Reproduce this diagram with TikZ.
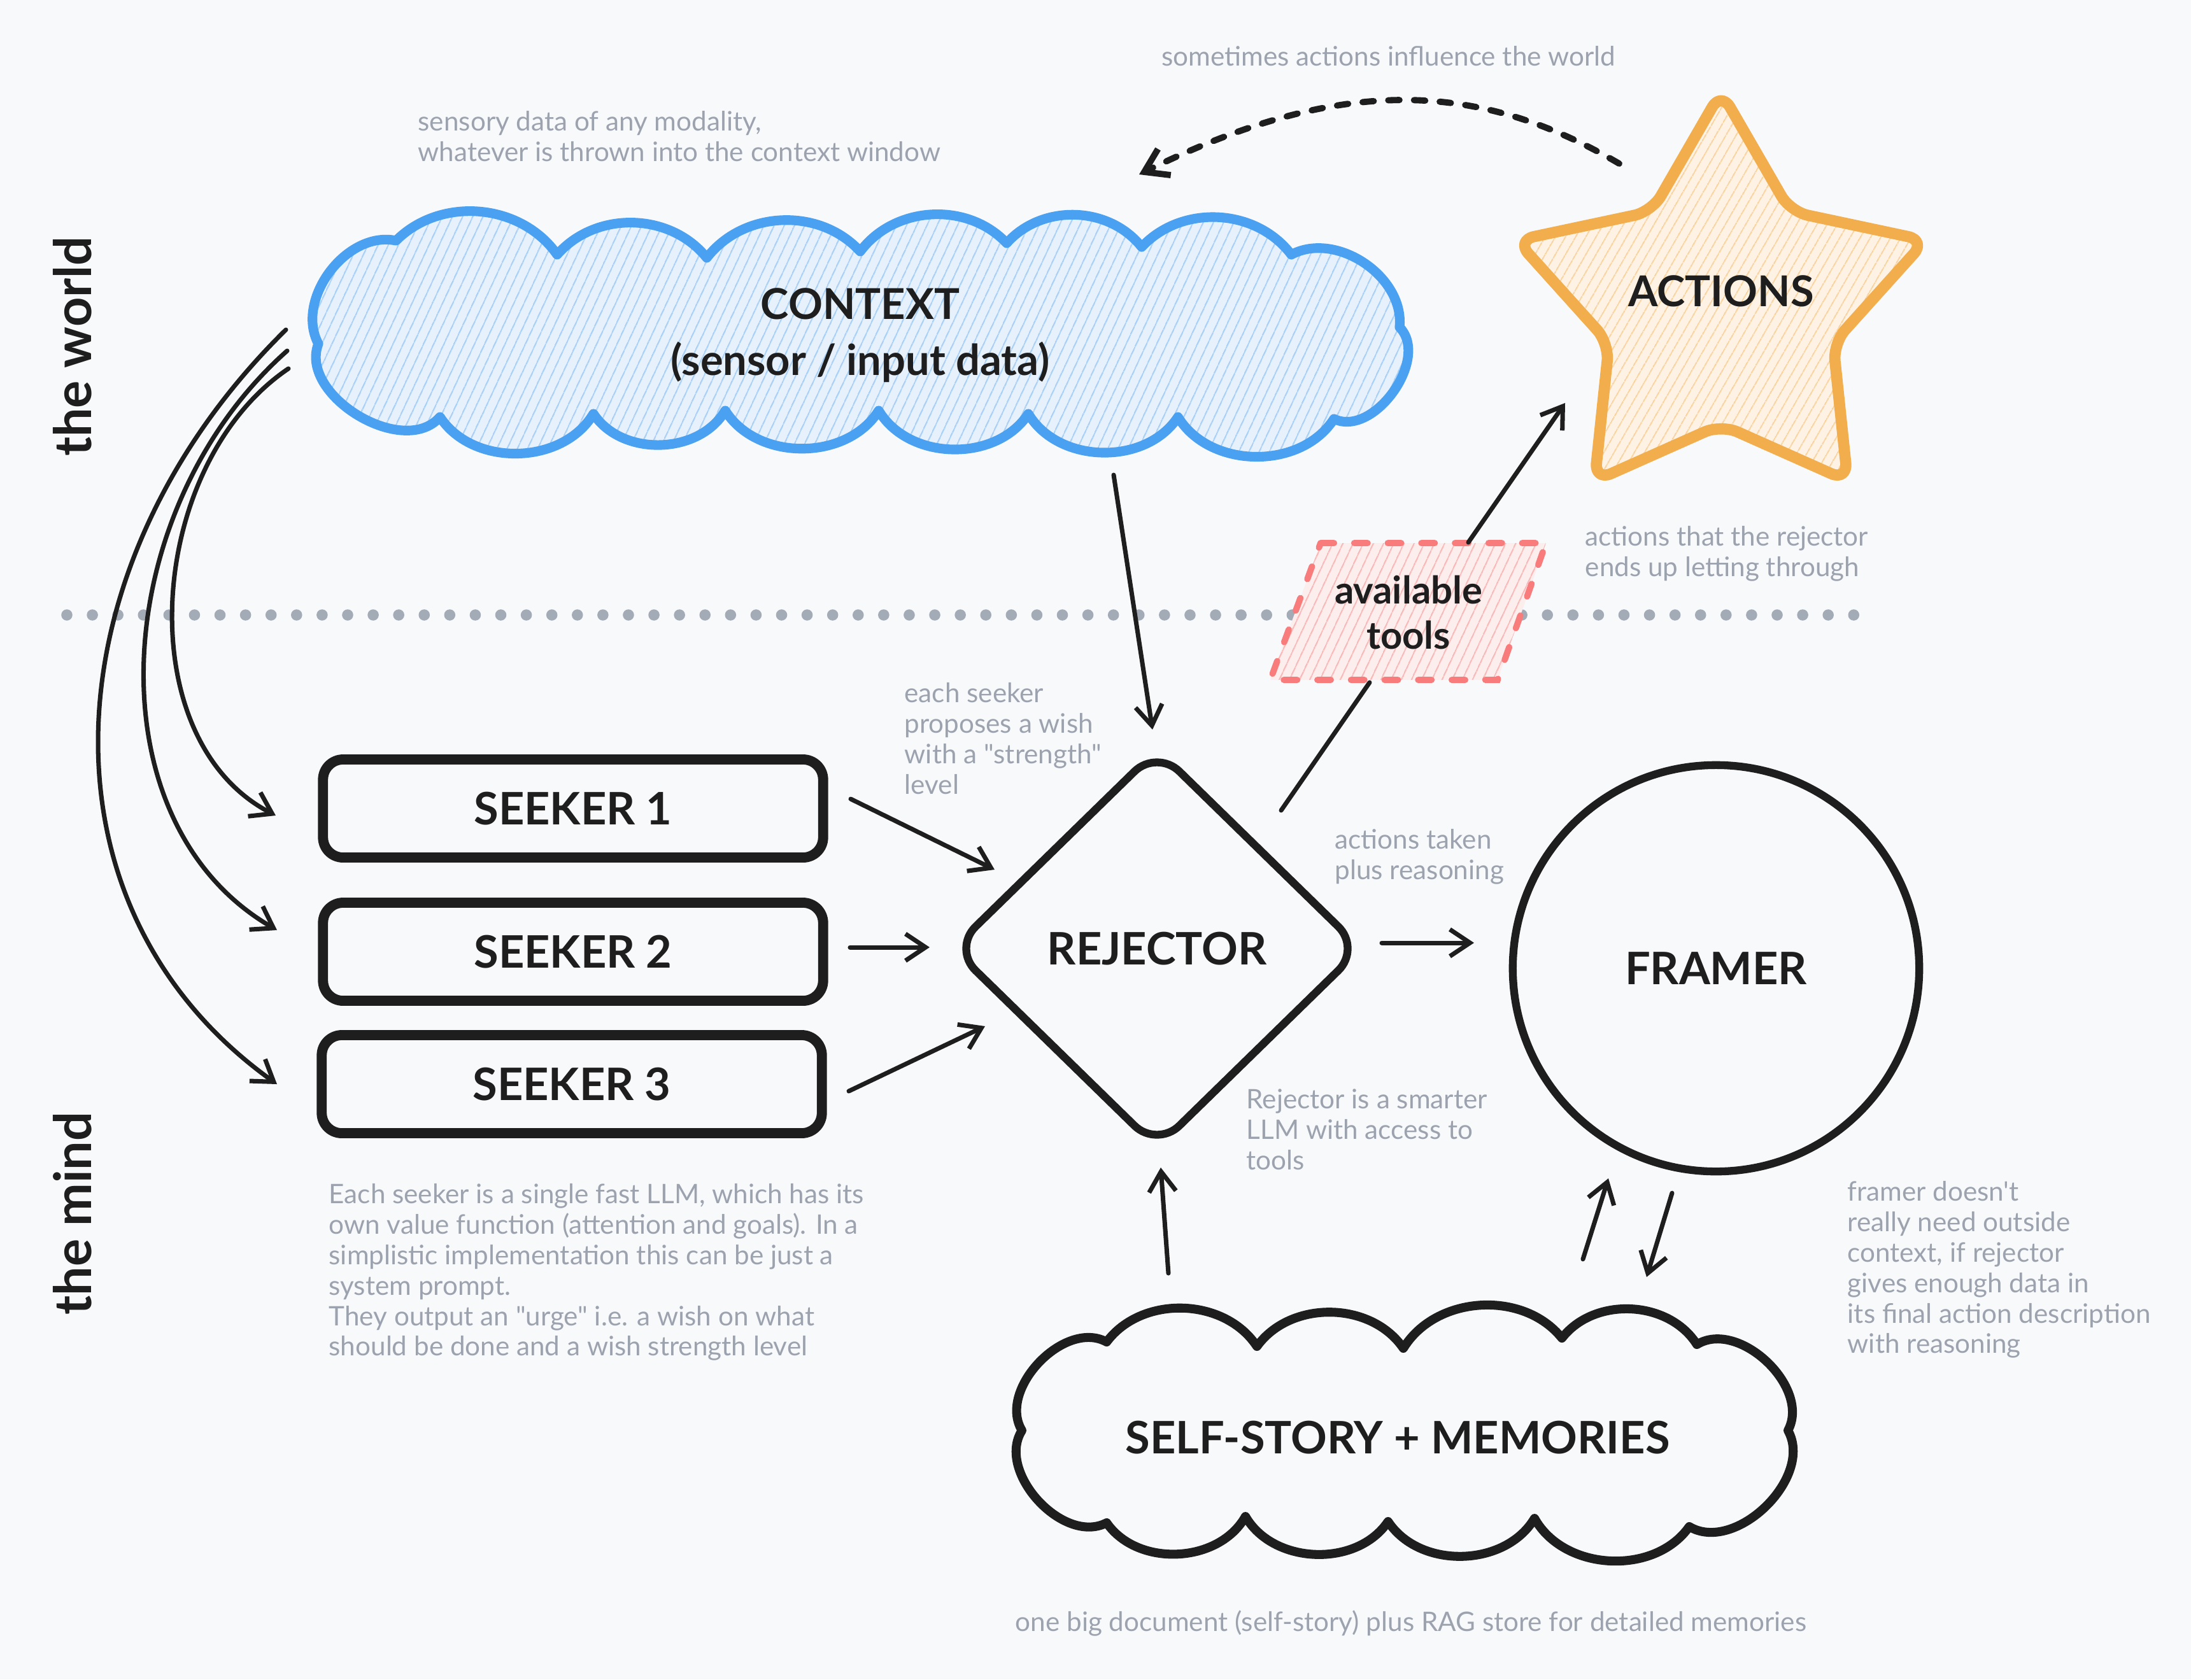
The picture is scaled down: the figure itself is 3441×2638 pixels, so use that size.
\documentclass[tikz,border=0pt]{standalone}
\usepackage{fontspec}
\setmainfont{Lato}[Ligatures=TeXOff]
\usetikzlibrary{arrows.meta,shapes.geometric,calc,patterns.meta}
\definecolor{bgc}{HTML}{F8F9FB}
\definecolor{ink}{HTML}{1E1E1E}
\definecolor{notec}{HTML}{9CA3AF}
\definecolor{dotc}{HTML}{A3ABB7}
\definecolor{blueline}{HTML}{4BA1F1}
\definecolor{bluefill}{HTML}{E6F1FC}
\definecolor{bluehatch}{HTML}{A8CFF6}
\definecolor{orline}{HTML}{F2AE4C}
\definecolor{orfill}{HTML}{FDF2E3}
\definecolor{orhatch}{HTML}{F9D3A0}
\definecolor{redline}{HTML}{F87C7C}
\definecolor{redfill}{HTML}{FDEEEE}
\definecolor{redhatch}{HTML}{F8B8B8}
\begin{document}
\begin{tikzpicture}[x=0.01cm,y=0.01cm,
  lbl/.style={font=\fontsize{20}{24}\selectfont\bfseries, text=ink, align=center},
  note/.style={font=\fontsize{12}{13.6}\selectfont, text=notec, align=left, inner sep=0pt, anchor=north west},
  side/.style={font=\fontsize{23}{26}\selectfont\bfseries, text=ink, rotate=90},
  arr/.style={draw=ink, line width=2pt, line cap=round, line join=round, -{Straight Barb[length=9pt,width=12pt]}},
  plainline/.style={draw=ink, line width=2pt, line cap=round},
  dashedarr/.style={draw=ink, line width=2.8pt, line cap=round, dash pattern=on 5pt off 6.5pt, -{Straight Barb[length=10pt,width=13pt]}},
  seekerbox/.style={lbl, draw=ink, line width=4.5pt, rounded corners=9pt, minimum width=7.85cm, minimum height=1.54cm},
  ctxcloud/.style={draw=blueline, line width=4.3pt, line join=round, preaction={fill=bluefill}, pattern={Lines[angle=65,distance=4pt,line width=0.6pt]}, pattern color=bluehatch},
  memcloud/.style={draw=ink, line width=4pt, line join=round},
  starshape/.style={draw=orline, line width=5pt, line join=round, rounded corners=8pt, preaction={fill=orfill}, pattern={Lines[angle=60,distance=4pt,line width=0.6pt]}, pattern color=orhatch},
  toolshape/.style={draw=redline, line width=2.8pt, line cap=round, dash pattern=on 6pt off 9pt, preaction={fill=redfill}, pattern={Lines[angle=65,distance=4pt,line width=0.6pt]}, pattern color=redhatch},
  dotline/.style={draw=dotc, line width=5pt, line cap=round, dash pattern=on 0pt off 11.4pt}
]
% background and bounding box
\fill[bgc] (0,0) rectangle (3441,-2638);
\useasboundingbox (0,0) rectangle (3441,-2638);

% divider between world and mind
\coordinate (divL) at (105,-966);
\coordinate (divR) at (2925,-966);
\draw[dotline] (divL) -- (divR);

% context cloud
\draw[ctxcloud] (500,-540) to[bend left=65] (622,-378) to[bend left=50] (875,-400) to[bend left=50] (1110,-405) to[bend left=50] (1351,-395) to[bend left=50] (1581,-382) to[bend left=50] (1793,-388) to[bend left=50] (2028,-400) to[bend left=62] (2198,-514) to[bend left=80] (2095,-658) to[bend left=58] (1850,-655) to[bend left=58] (1615,-650) to[bend left=58] (1380,-645) to[bend left=58] (1139,-645) to[bend left=58] (932,-650) to[bend left=58] (691,-655) to[bend left=80] cycle;

% memories cloud
\draw[memcloud] (1605,-2247) to[bend left=75] (1738,-2108) to[bend left=55] (1974,-2115) to[bend left=55] (2204,-2118) to[bend left=55] (2453,-2102) to[bend left=55] (2665,-2112) to[bend left=75] (2808,-2247) to[bend left=75] (2653,-2398) to[bend left=58] (2410,-2385) to[bend left=58] (2180,-2390) to[bend left=58] (1956,-2382) to[bend left=58] (1738,-2392) to[bend left=75] cycle;

% star
\coordinate (sc) at (2703,-482);
\draw[starshape] ($(sc)+(90:338)$) -- ($(sc)+(54:185)$) -- ($(sc)+(18:338)$) -- ($(sc)+(-18:185)$) -- ($(sc)+(-54:338)$) -- ($(sc)+(-90:185)$) -- ($(sc)+(-126:338)$) -- ($(sc)+(-162:185)$) -- ($(sc)+(162:338)$) -- ($(sc)+(126:185)$) -- cycle;

% tools parallelogram
\draw[toolshape] (2074,-853) -- (2428,-853) -- (2352,-1068) -- (1995,-1068) -- cycle;

% main nodes
\node[lbl, font=\fontsize{19}{25}\selectfont\bfseries, minimum width=17.29cm, minimum height=3.95cm] (ctx) at (1351,-527) {CONTEXT\\(sensor / input data)};
\node[lbl, font=\fontsize{19}{22}\selectfont\bfseries] (actions) at (2703,-457) {ACTIONS};
\node[lbl, font=\fontsize{17}{20}\selectfont\bfseries] (tools) at (2212,-962) {available\\tools};
\node[seekerbox] (s1) at (900,-1270) {SEEKER 1};
\node[seekerbox] (s2) at (900,-1495) {SEEKER 2};
\node[seekerbox] (s3) at (898,-1703) {SEEKER 3};
\node[lbl, diamond, draw=ink, line width=3.5pt, rounded corners=14pt, minimum width=6.45cm, minimum height=6.3cm, inner sep=0pt] (rej) at (1817,-1490) {REJECTOR};
\node[lbl, circle, draw=ink, line width=3.5pt, minimum size=6.38cm] (framer) at (2695,-1521) {FRAMER};
\node[lbl, minimum width=12.4cm, minimum height=4.2cm] (mem) at (2195,-2258) {SELF-STORY + MEMORIES};

% side labels
\node[side] (world) at (114,-544) {the world};
\node[side] (mind) at (114,-1906) {the mind};

% notes
\node[note, anchor=center] (nsome) at (2181,-88) {sometimes actions influence the world};
\node[note] (nsens) at (656,-174) {sensory data of any modality,\\whatever is thrown into the context window};
\node[note] (nseek) at (1420,-1072) {each seeker\\proposes a wish\\with a "strength"\\level};
\node[note] (nlet) at (2489,-826) {actions that the rejector\\ends up letting through};
\node[note] (ntaken) at (2096,-1302) {actions taken\\plus reasoning};
\node[note] (nsmart) at (1957,-1710) {Rejector is a smarter\\LLM with access to\\tools};
\node[note] (nframer) at (2901,-1855) {framer doesn't\\really need outside\\context, if rejector\\gives enough data in\\its final action description\\with reasoning};
\node[note] (neach) at (516,-1859) {Each seeker is a single fast LLM, which has its\\own value function (attention and goals). In a\\simplistic implementation this can be just a\\system prompt.\\They output an "urge" i.e. a wish on what\\should be done and a wish strength level};
\node[note, anchor=center] (ndoc) at (2216,-2550) {one big document (self-story) plus RAG store for detailed memories};

% connectors
\draw[arr] ($(ctx.center)+(398,-219)$) -- ($(rej.center)+(-7,344)$);
\draw[arr] ($(s1.center)+(436,15)$) -- ($(rej.center)+(-255,124)$);
\draw[arr] ($(s2.center)+(435,7)$) -- ($(rej.center)+(-357,2)$);
\draw[arr] ($(s3.center)+(435,-11)$) -- ($(rej.center)+(-270,-122)$);
\draw[arr] ($(rej.center)+(353,9)$) -- ($(framer.center)+(-380,40)$);
\draw[plainline] ($(rej.center)+(195,217)$) -- ($(tools.center)+(-61,-110)$);
\draw[arr] ($(tools.center)+(94,110)$) -- ($(actions.center)+(-245,-176)$);
\draw[arr] ($(mem.center)+(-360,258)$) -- ($(rej.center)+(6,-344)$);
\draw[arr] ($(mem.center)+(291,280)$) -- ($(framer.center)+(-169,-330)$);
\draw[arr] ($(framer.center)+(-69,-353)$) -- ($(mem.center)+(391,252)$);
\draw[dashedarr] ($(actions.center)+(-160,200)$) .. controls (2313,-122) and (2099,-122) .. ($(ctx.center)+(438,253)$);
\draw[arr] ($(ctx.center)+(-902,9)$) .. controls (80,-880) and (40,-1420) .. ($(s3.center)+(-463,0)$);
\draw[arr] ($(ctx.center)+(-900,-24)$) .. controls (170,-800) and (140,-1290) .. ($(s2.center)+(-465,34)$);
\draw[arr] ($(ctx.center)+(-898,-52)$) .. controls (230,-730) and (200,-1160) .. ($(s1.center)+(-467,-11)$);
\end{tikzpicture}
\end{document}
